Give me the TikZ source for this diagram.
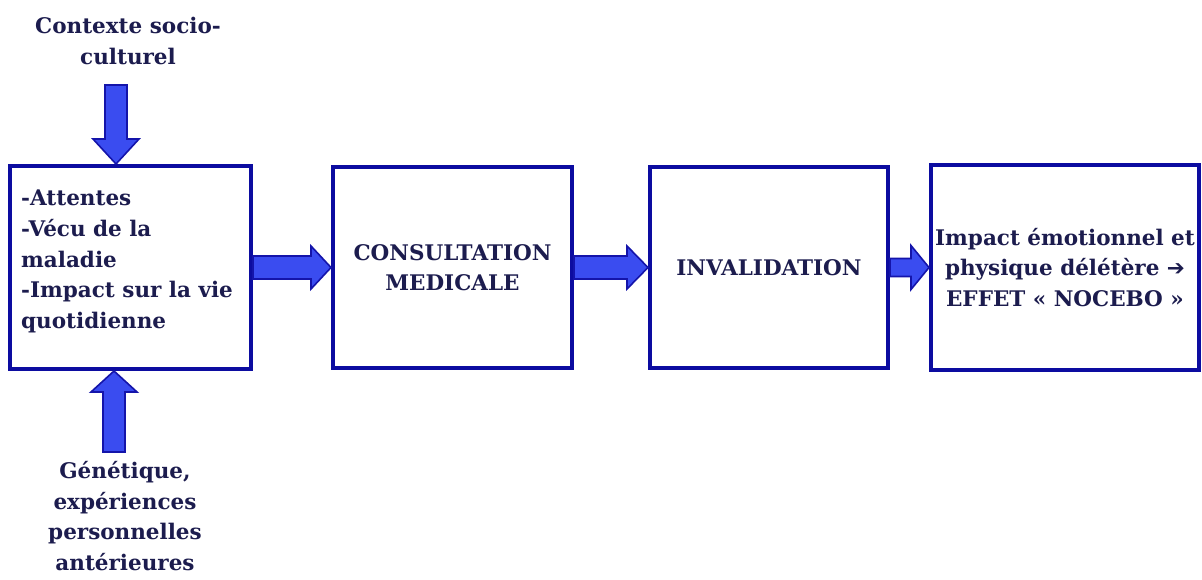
\documentclass[tikz,border=0pt]{standalone}
\usepackage{fontspec}
\setmainfont{DejaVu Serif}
\newfontfamily\symfont{DejaVu Sans}
\usetikzlibrary{calc}
\definecolor{txtc}{RGB}{28,28,78}
\definecolor{boxc}{RGB}{12,12,160}
\definecolor{arrfill}{RGB}{58,76,240}
\definecolor{arrline}{RGB}{20,20,170}
\newcommand\harrow[5]{\draw[barrow] ($(#1)+(0,#3)$) -- ($(#2)+(-#5,#3)$) -- ($(#2)+(-#5,#4)$) -- (#2) -- ($(#2)+(-#5,-#4)$) -- ($(#2)+(-#5,-#3)$) -- ($(#1)+(0,-#3)$) -- cycle;}
\newcommand\vdown[5]{\draw[barrow] ($(#1)+(#3,0)$) -- ($(#2)+(#3,-#5)$) -- ($(#2)+(#4,-#5)$) -- (#2) -- ($(#2)+(-#4,-#5)$) -- ($(#2)+(-#3,-#5)$) -- ($(#1)+(-#3,0)$) -- cycle;}
\newcommand\vup[5]{\draw[barrow] ($(#1)+(#3,0)$) -- ($(#2)+(#3,#5)$) -- ($(#2)+(#4,#5)$) -- (#2) -- ($(#2)+(-#4,#5)$) -- ($(#2)+(-#3,#5)$) -- ($(#1)+(-#3,0)$) -- cycle;}
\begin{document}
\begin{tikzpicture}[x=1pt,y=-1pt,
  every node/.style={text=txtc, font=\bfseries\fontsize{21.5}{30.6}\selectfont, inner sep=0pt},
  box/.style={draw=boxc, line width=4pt, fill=white},
  barrow/.style={fill=arrfill, draw=arrline, line width=1.6pt, line join=miter}]
\useasboundingbox (0,0) rectangle (1202,580);
\fill[white] (0,0) rectangle (1202,580);
% boxes
\node[box, minimum width=241pt, minimum height=203pt] (b1) at (130.5,267.5) {};
\node[box, minimum width=239pt, minimum height=201pt, align=center] (b2) at (452.5,267.5) {CONSULTATION\\MEDICALE};
\node[box, minimum width=238pt, minimum height=201pt, align=center] (b3) at (769,267.5) {INVALIDATION};
\node[box, minimum width=268pt, minimum height=205pt, align=center] (b4) at (1065,267.5) {Impact émotionnel et\\physique délétère {\symfont ➔}\\EFFET « NOCEBO »};
% box 1 text
\node[anchor=north west, align=left] (t1) at (21,190) {-Attentes\\-Vécu de la\\maladie\\-Impact sur la vie\\quotidienne};
% outer texts
\node[anchor=north, align=center] (ctx) at (128,17) {Contexte socio-\\culturel};
\node[anchor=north, align=center] (gen) at (125,461) {Génétique,\\expériences\\personnelles\\antérieures};
% connectors
\coordinate (ctxend) at (116,85);
\coordinate (genend) at (114,452);
\vdown{ctxend}{b1.north -| ctxend}{11}{23}{25}
\vup{genend}{b1.south -| genend}{11}{23}{21}
\harrow{b1.east}{b2.west}{11.5}{21.5}{20}
\harrow{b2.east}{b3.west}{11.5}{21.5}{21}
\harrow{b3.east}{b4.west}{9}{22}{18}
\end{tikzpicture}
\end{document}
